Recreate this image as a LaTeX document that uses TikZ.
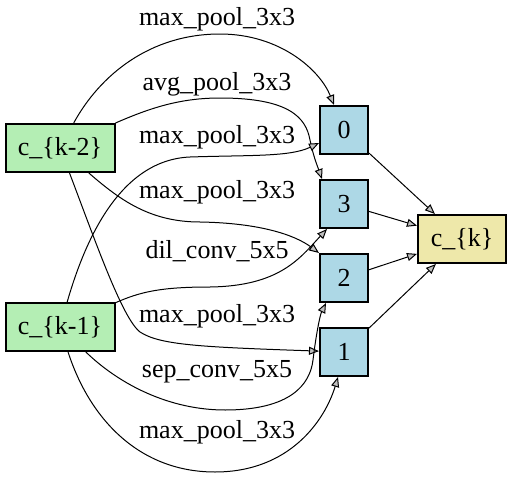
\documentclass[tikz,border=0pt]{standalone}
\usepackage{fontspec}
\setmainfont{Liberation Serif}
\usepackage{xcolor}
\usetikzlibrary{arrows.meta, positioning}

\definecolor{inputgreen}{HTML}{B4EEB4}
\definecolor{stateblue}{HTML}{ADD8E6}
\definecolor{outputyellow}{HTML}{EEE8AA}

\begin{document}
\begin{tikzpicture}[
    x=1pt, y=-1pt,
    node distance=24pt,
    font=\fontsize{26}{30}\selectfont,
    inputbox/.style={draw, line width=2pt, fill=inputgreen, minimum width=109pt, minimum height=48pt, inner sep=0pt},
    statebox/.style={draw, line width=2pt, fill=stateblue, minimum width=48pt, minimum height=48pt, inner sep=0pt},
    outputbox/.style={draw, line width=2pt, fill=outputyellow, minimum width=88pt, minimum height=48pt, inner sep=0pt},
    oplabel/.style={anchor=base, inner sep=0pt},
    arr/.style={-{Triangle[length=10pt, width=8pt, fill=gray!50]}, line width=1pt},
]
\useasboundingbox (0,0) rectangle (512,479);

% Inputs
\node[inputbox] (k2) at (60,148) {c\_\{k-2\}};
\node[inputbox] (k1) at (60,327) {c\_\{k-1\}};

% Intermediate nodes (vertical stack)
\node[statebox] (n0) at (344,130) {0};
\node[statebox, below=of n0] (n3) {3};
\node[statebox, below=of n3] (n2) {2};
\node[statebox, below=of n2] (n1) {1};

% Output
\node[outputbox] (ck) at (462,239) {c\_\{k\}};

% Operation labels
\node[oplabel] (l1) at (217,26) {max\_pool\_3x3};
\node[oplabel] (l2) at (217,90) {avg\_pool\_3x3};
\node[oplabel] (l3) at (217,143) {max\_pool\_3x3};
\node[oplabel] (l4) at (217,198) {max\_pool\_3x3};
\node[oplabel] (l5) at (217,258) {dil\_conv\_5x5};
\node[oplabel] (l6) at (217,322) {max\_pool\_3x3};
\node[oplabel] (l7) at (217,377) {sep\_conv\_5x5};
\node[oplabel] (l8) at (217,438) {max\_pool\_3x3};

% Edges into the intermediate nodes
\draw[arr] (k2) .. controls (100,75) and (150,34) .. (220,34) .. controls (280,34) and (320,70) .. (n0);
\draw[arr] (k2.north east) .. controls (150,108) and (180,98) .. (220,98) .. controls (290,98) and (306,118) .. (310,140) .. controls (313,155) and (317,165) .. ([xshift=-22pt]n3.north);
\draw[arr] (k1) .. controls (85,240) and (120,160) .. (190,157) .. controls (250,155) and (290,157) .. ([yshift=-13pt]n0.west);
\draw[arr] (k2) .. controls (120,200) and (150,222) .. (200,222) .. controls (260,223) and (295,235) .. (n2.north west);
\draw[arr] (k1) .. controls (140,292) and (160,287) .. (210,287) .. controls (280,286) and (300,258) .. ([xshift=-17pt]n3.south);
\draw[arr] (k2) .. controls (95,240) and (122,318) .. (140,332) .. controls (160,345) and (200,347) .. (n1);
\draw[arr] (k1) .. controls (120,385) and (170,410) .. (225,410) .. controls (290,410) and (310,385) .. (313,360) .. controls (316,335) and (320,315) .. ([xshift=-18pt]n2.south);
\draw[arr] (k1) .. controls (90,420) and (140,472) .. (215,472) .. controls (290,472) and (325,420) .. ([xshift=-6pt]n1.south);

% Edges into the output
\foreach \n in {n0,n3,n2,n1}
    \draw[arr] (\n) -- (ck);
\end{tikzpicture}
\end{document}
